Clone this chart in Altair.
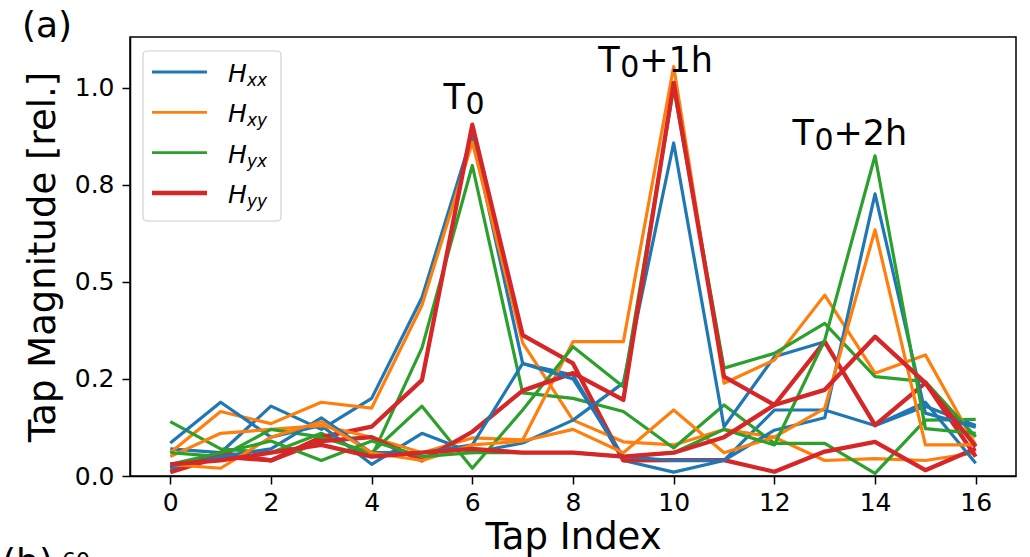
import altair as alt
import pandas as pd

# Tap indices of the estimated channel impulse response
tap_index = list(range(17))

# Relative tap magnitudes for the four channel components at three snapshots
hxx_t0 = [0.07, 0.06, 0.18, 0.12, 0.20, 0.46, 0.88, 0.29, 0.26, 0.04, 0.01, 0.04, 0.17, 0.17, 0.13, 0.18, 0.13]
hxx_t1 = [0.085, 0.19, 0.10, 0.13, 0.03, 0.11, 0.06, 0.085, 0.144, 0.24, 0.858, 0.127, 0.307, 0.346, 0.13, 0.19, 0.033]
hxx_t2 = [0.02, 0.05, 0.07, 0.15, 0.06, 0.06, 0.08, 0.29, 0.25, 0.05, 0.04, 0.04, 0.118, 0.15, 0.727, 0.162, 0.126]

hxy_t0 = [0.06, 0.166, 0.135, 0.19, 0.175, 0.44, 0.86, 0.343, 0.144, 0.088, 0.08, 0.12, 0.10, 0.04, 0.045, 0.04, 0.06]
hxy_t1 = [0.05, 0.11, 0.12, 0.13, 0.10, 0.06, 0.098, 0.093, 0.346, 0.346, 1.055, 0.239, 0.299, 0.466, 0.265, 0.312, 0.08]
hxy_t2 = [0.03, 0.02, 0.10, 0.14, 0.06, 0.04, 0.08, 0.09, 0.12, 0.06, 0.17, 0.06, 0.10, 0.174, 0.634, 0.08, 0.08]

hyx_t0 = [0.14, 0.07, 0.06, 0.11, 0.05, 0.33, 0.80, 0.214, 0.20, 0.166, 0.072, 0.183, 0.084, 0.084, 0.007, 0.144, 0.146]
hyx_t1 = [0.06, 0.05, 0.12, 0.10, 0.06, 0.18, 0.02, 0.17, 0.333, 0.23, 1.0, 0.278, 0.316, 0.393, 0.256, 0.243, 0.101]
hyx_t2 = [0.03, 0.06, 0.09, 0.04, 0.09, 0.05, 0.06, 0.06, 0.06, 0.05, 0.06, 0.12, 0.08, 0.35, 0.825, 0.122, 0.11]

hyy_t0 = [0.01, 0.05, 0.04, 0.10, 0.127, 0.247, 0.905, 0.363, 0.29, 0.04, 0.041, 0.041, 0.011, 0.063, 0.088, 0.015, 0.071]
hyy_t1 = [0.02, 0.06, 0.04, 0.09, 0.10, 0.04, 0.114, 0.22, 0.265, 0.196, 1.013, 0.256, 0.183, 0.346, 0.131, 0.24, 0.05]
hyy_t2 = [0.03, 0.04, 0.06, 0.08, 0.05, 0.06, 0.07, 0.06, 0.06, 0.05, 0.06, 0.10, 0.183, 0.222, 0.359, 0.24, 0.076]

components = ["xx", "xy", "yx", "yy"]
snapshots = ["T0", "T0+1h", "T0+2h"]
component_colors = {"xx": "#1f77b4", "xy": "#ff7f0e", "yx": "#2ca02c", "yy": "#d62728"}
component_widths = {"xx": 3.2, "xy": 3.2, "yx": 3.2, "yy": 4.3}

series = {
    ("T0", "xx"): hxx_t0, ("T0", "xy"): hxy_t0, ("T0", "yx"): hyx_t0, ("T0", "yy"): hyy_t0,
    ("T0+1h", "xx"): hxx_t1, ("T0+1h", "xy"): hxy_t1, ("T0+1h", "yx"): hyx_t1, ("T0+1h", "yy"): hyy_t1,
    ("T0+2h", "xx"): hxx_t2, ("T0+2h", "xy"): hxy_t2, ("T0+2h", "yx"): hyx_t2, ("T0+2h", "yy"): hyy_t2,
}

rows = []
for (snap, comp), vals in series.items():
    for i, v in zip(tap_index, vals):
        rows.append({"tap": i, "mag": v, "comp": comp, "snap": snap})
df = pd.DataFrame(rows)

# Snapshot labels placed above each main tap (x, baseline y in data units)
peak_labels = pd.DataFrame({
    "x": [5.43, 8.5, 12.36],
    "y": [0.945, 1.041, 0.853],
    "suffix": ["", "+1h", "+2h"],
})

FONT = "DejaVu Sans"
x_scale = alt.Scale(domain=[-0.8, 16.8], nice=False, zero=False)
y_scale = alt.Scale(domain=[0, 1.131], nice=False, zero=False)

x_axis = alt.Axis(
    values=list(range(0, 17, 2)), format="d", title="Tap Index", grid=False,
    labelFontSize=25, titleFontSize=37, labelFont=FONT, titleFont=FONT,
    labelColor="black", titleColor="black", tickColor="black", domainColor="black",
    tickSize=8, tickWidth=1.5, domainWidth=1.5, labelPadding=6, titlePadding=4,
    titleFontWeight="normal",
)
y_axis = alt.Axis(
    values=[0, 0.25, 0.5, 0.75, 1.0],
    labelExpr="datum.value == 0.25 ? '0.2' : datum.value == 0.75 ? '0.8' : format(datum.value, '.1f')",
    title="Tap Magnitude [rel.]", grid=False,
    labelFontSize=25, titleFontSize=37, labelFont=FONT, titleFont=FONT,
    labelColor="black", titleColor="black", tickColor="black", domainColor="black",
    tickSize=8, tickWidth=1.5, domainWidth=1.5, labelPadding=8, titlePadding=12,
    titleFontWeight="normal",
)

base = alt.Chart(df)
layers = []
for snap in snapshots:
    for comp in components:
        layers.append(
            base.transform_filter((alt.datum.comp == comp) & (alt.datum.snap == snap))
            .mark_line(color=component_colors[comp], strokeWidth=component_widths[comp],
                       strokeJoin="round", clip=True)
            .encode(x=alt.X("tap:Q", scale=x_scale, axis=x_axis),
                    y=alt.Y("mag:Q", scale=y_scale, axis=y_axis))
        )

# Peak annotations: "T", lowered "0", then the hour suffix
lab = alt.Chart(peak_labels)
enc = dict(x=alt.X("x:Q", scale=x_scale), y=alt.Y("y:Q", scale=y_scale))
layers.append(lab.mark_text(text="T", font=FONT, fontSize=35, align="left",
                            baseline="alphabetic", color="black").encode(**enc))
layers.append(lab.mark_text(text="0", font=FONT, fontSize=30, align="left",
                            baseline="alphabetic", color="black", dx=22, dy=5).encode(**enc))
layers.append(lab.mark_text(font=FONT, fontSize=35, align="left",
                            baseline="alphabetic", color="black", dx=41).encode(text="suffix:N", **enc))

# Legend box with one entry per component
one = pd.DataFrame({"k": [0]})
layers.append(
    alt.Chart(one).mark_rect(fill="white", fillOpacity=0.8, stroke="#d0d0d0", strokeWidth=1.2,
                             cornerRadius=4)
    .encode(x=alt.value(13), x2=alt.value(151), y=alt.value(14), y2=alt.value(184))
)
for k, comp in enumerate(components):
    yy = 35 + 40.3 * k
    layers.append(
        alt.Chart(one).mark_rule(color=component_colors[comp],
                                 strokeWidth=component_widths[comp] - 0.4 + (0.6 if comp == "yy" else 0))
        .encode(x=alt.value(22), x2=alt.value(77), y=alt.value(yy))
    )
    layers.append(
        alt.Chart(one).mark_text(text="H", font=FONT, fontStyle="italic", fontSize=25,
                                 align="left", baseline="alphabetic", color="black")
        .encode(x=alt.value(98), y=alt.value(yy + 10))
    )
    layers.append(
        alt.Chart(one).mark_text(text=comp, font=FONT, fontStyle="italic", fontSize=17,
                                 align="left", baseline="alphabetic", color="black")
        .encode(x=alt.value(117), y=alt.value(yy + 14))
    )

# Panel letters
layers.append(
    alt.Chart(one).mark_text(text="(a)", font=FONT, fontSize=36, align="left",
                             baseline="alphabetic", color="black")
    .encode(x=alt.value(-108), y=alt.value(0))
)
layers.append(
    alt.Chart(one).mark_text(text="(b)", font=FONT, fontSize=36, align="left",
                             baseline="alphabetic", color="black")
    .encode(x=alt.value(-128), y=alt.value(537))
)
layers.append(
    alt.Chart(one).mark_text(text="60", font=FONT, fontSize=22, align="left",
                             baseline="alphabetic", color="black")
    .encode(x=alt.value(-68), y=alt.value(531))
)

chart = (
    alt.layer(*layers)
    .properties(width=886, height=439, autosize="none",
                padding={"left": 130, "top": 37, "right": 14, "bottom": 81},
                background="white")
    .configure_view(stroke="black", strokeWidth=1.5)
)

chart.save("out.html", embed_options={"renderer": "svg", "actions": False})
